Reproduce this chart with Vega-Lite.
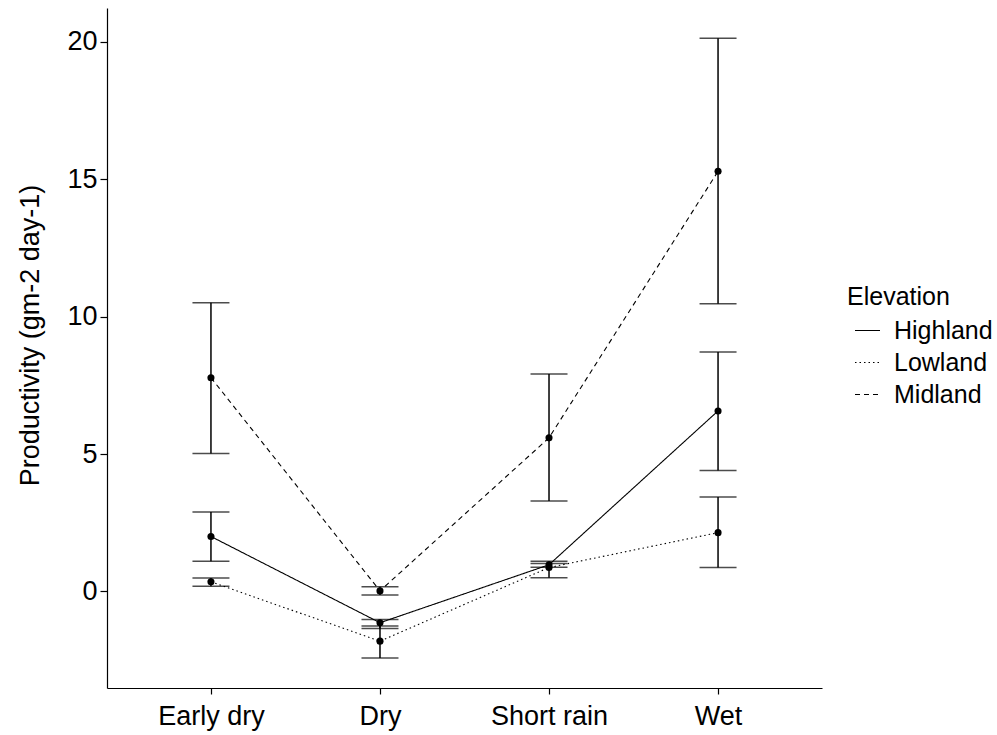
{
  "$schema": "https://vega.github.io/schema/vega-lite/v6.json",
  "width": 715,
  "height": 680,
  "autosize": {"type": "none"},
  "padding": {"left": 107, "top": 8, "right": 175, "bottom": 47},
  "background": "white",
  "config": {
    "font": "Liberation Sans",
    "view": {"stroke": null},
    "axis": {
      "grid": false,
      "domainColor": "black",
      "domainWidth": 1.2,
      "tickColor": "black",
      "tickWidth": 1.2,
      "labelColor": "black",
      "titleColor": "black",
      "labelFont": "Liberation Sans",
      "titleFont": "Liberation Sans",
      "labelFontSize": 27,
      "titleFontSize": 27,
      "titleFontWeight": "normal"
    }
  },
  "data": {
    "values": [
      {"season": "Early dry", "elevation": "Highland", "mean": 2.00, "lower": 1.10, "upper": 2.89},
      {"season": "Early dry", "elevation": "Lowland", "mean": 0.35, "lower": 0.19, "upper": 0.49},
      {"season": "Early dry", "elevation": "Midland", "mean": 7.78, "lower": 5.02, "upper": 10.51},
      {"season": "Dry", "elevation": "Highland", "mean": -1.14, "lower": -1.35, "upper": -1.02},
      {"season": "Dry", "elevation": "Lowland", "mean": -1.81, "lower": -2.42, "upper": -1.26},
      {"season": "Dry", "elevation": "Midland", "mean": 0.02, "lower": -0.13, "upper": 0.17},
      {"season": "Short rain", "elevation": "Highland", "mean": 0.97, "lower": 0.88, "upper": 1.10},
      {"season": "Short rain", "elevation": "Lowland", "mean": 0.87, "lower": 0.50, "upper": 1.02},
      {"season": "Short rain", "elevation": "Midland", "mean": 5.59, "lower": 3.29, "upper": 7.91},
      {"season": "Wet", "elevation": "Highland", "mean": 6.57, "lower": 4.40, "upper": 8.71},
      {"season": "Wet", "elevation": "Lowland", "mean": 2.14, "lower": 0.87, "upper": 3.44},
      {"season": "Wet", "elevation": "Midland", "mean": 15.29, "lower": 10.47, "upper": 20.13}
    ]
  },
  "encoding": {
    "x": {
      "field": "season",
      "type": "ordinal",
      "sort": ["Early dry", "Dry", "Short rain", "Wet"],
      "scale": {"type": "point", "padding": 0.615},
      "axis": {"title": null, "labelAngle": 0, "tickSize": 6, "labelPadding": 9}
    }
  },
  "layer": [
    {
      "mark": {"type": "rule", "color": "black", "strokeWidth": 1.5},
      "encoding": {
        "y": {"field": "lower", "type": "quantitative"},
        "y2": {"field": "upper"}
      }
    },
    {
      "mark": {"type": "tick", "color": "black", "size": 37, "thickness": 1.5, "orient": "horizontal"},
      "encoding": {"y": {"field": "lower", "type": "quantitative"}}
    },
    {
      "mark": {"type": "tick", "color": "black", "size": 37, "thickness": 1.5, "orient": "horizontal"},
      "encoding": {"y": {"field": "upper", "type": "quantitative"}}
    },
    {
      "mark": {"type": "line", "color": "black", "strokeWidth": 1.1},
      "encoding": {
        "y": {"field": "mean", "type": "quantitative"},
        "strokeDash": {
          "field": "elevation",
          "type": "nominal",
          "title": "Elevation",
          "scale": {
            "domain": ["Highland", "Lowland", "Midland"],
            "range": [[1, 0], [1.5, 3], [5, 4]]
          },
          "legend": {
            "orient": "none",
            "legendX": 740,
            "legendY": 277,
            "symbolType": "stroke",
            "symbolSize": 625,
            "symbolOffset": 7,
            "symbolStrokeColor": "black",
            "symbolStrokeWidth": 1.1,
            "titleFont": "Liberation Sans",
            "titleFontSize": 25,
            "titleFontWeight": "normal",
            "titleColor": "black",
            "titlePadding": 7,
            "labelFont": "Liberation Sans",
            "labelFontSize": 25,
            "labelColor": "black",
            "labelOffset": 13,
            "rowPadding": 5
          }
        }
      }
    },
    {
      "mark": {"type": "point", "filled": true, "color": "black", "size": 50, "opacity": 1},
      "encoding": {
        "y": {
          "field": "mean",
          "type": "quantitative",
          "scale": {"domain": [-3.515, 21.235], "nice": false, "zero": false},
          "axis": {
            "title": "Productivity (gm-2 day-1)",
            "values": [0, 5, 10, 15, 20],
            "tickSize": 7,
            "labelPadding": 3,
            "titlePadding": 22,
            "titleY": 327
          }
        }
      }
    }
  ]
}
